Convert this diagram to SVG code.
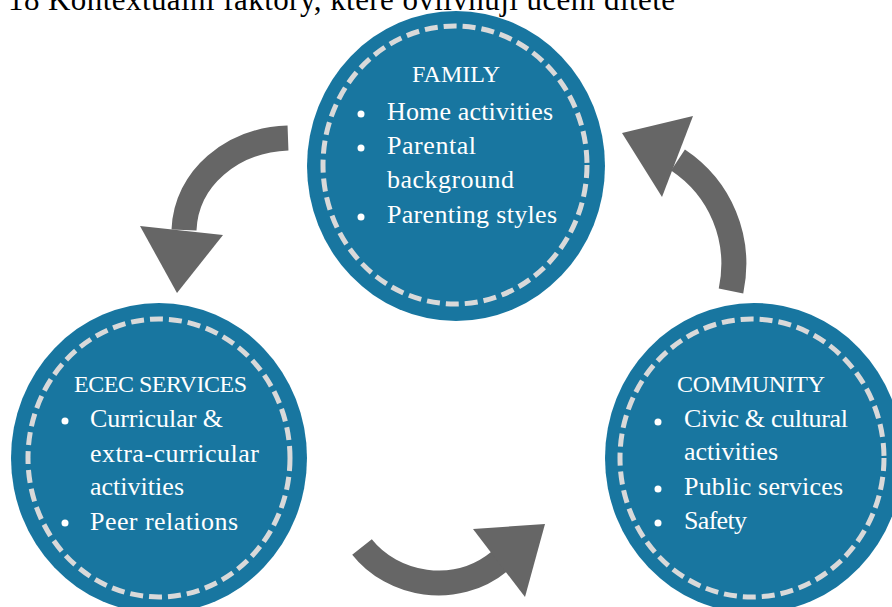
<svg xmlns="http://www.w3.org/2000/svg" width="892" height="607" viewBox="0 0 892 607">
<defs>
<style>
.disc{fill:#1876a0}
.ring{fill:none;stroke:#d9d9d9;stroke-width:5;stroke-dasharray:13 6}
.hd{font-family:"Liberation Serif","Times New Roman",serif;font-size:24px;fill:#ffffff}
.it{font-family:"Liberation Serif","Times New Roman",serif;font-size:26px;fill:#ffffff}
.bul{fill:#ffffff}
.shaft{fill:none;stroke:#666666;stroke-width:25;stroke-linecap:butt}
.head{fill:#666666}
.cap{font-family:"Liberation Serif","Times New Roman",serif;font-size:31px;fill:#000000}
</style>
</defs>
<rect width="892" height="607" fill="#ffffff"/>
<text class="cap" x="8" y="10" textLength="667">18 Kontextuální faktory, které ovlivňují učení dítěte</text>

<g id="connectors">
<path class="shaft" d="M 288 138 C 232 140 186 178 184 230"/>
<polygon class="head" points="140,226 223,235 177,293"/>
<path class="shaft" d="M 731 291 C 742 238 720 188 678 160"/>
<polygon class="head" points="622,133 693,116 662,197"/>
<path class="shaft" d="M 362 547 C 392 585 455 598 500 561"/>
<polygon class="head" points="473,529 545,524 525,597"/>
</g>

<g id="family">
<ellipse class="disc" cx="456" cy="166" rx="149" ry="155"/>
<ellipse class="ring" cx="455" cy="165" rx="132" ry="139"/>
<text class="hd" x="412" y="82" textLength="88">FAMILY</text>
<circle class="bul" cx="361" cy="114" r="3.5"/>
<circle class="bul" cx="361" cy="148" r="3.5"/>
<circle class="bul" cx="361" cy="217" r="3.5"/>
<text class="it" x="387" y="120" textLength="166">Home activities</text>
<text class="it" x="387" y="154" textLength="89">Parental</text>
<text class="it" x="387" y="188" textLength="127">background</text>
<text class="it" x="387" y="223" textLength="170">Parenting styles</text>
</g>

<g id="ecec">
<ellipse class="disc" cx="159" cy="458" rx="148" ry="155"/>
<ellipse class="ring" cx="159" cy="458" rx="131" ry="139"/>
<text class="hd" x="74" y="392" textLength="173">ECEC SERVICES</text>
<circle class="bul" cx="65" cy="421" r="3.5"/>
<circle class="bul" cx="65" cy="523" r="3.5"/>
<text class="it" x="90" y="427" textLength="133">Curricular &amp;</text>
<text class="it" x="90" y="462" textLength="169">extra-curricular</text>
<text class="it" x="90" y="495" textLength="94">activities</text>
<text class="it" x="90" y="530" textLength="148">Peer relations</text>
</g>

<g id="community">
<ellipse class="disc" cx="754" cy="458" rx="149" ry="155"/>
<ellipse class="ring" cx="752" cy="458" rx="132" ry="139"/>
<text class="hd" x="677" y="392" textLength="148">COMMUNITY</text>
<circle class="bul" cx="658" cy="422" r="3.5"/>
<circle class="bul" cx="658" cy="489" r="3.5"/>
<circle class="bul" cx="658" cy="523" r="3.5"/>
<text class="it" x="684" y="427" textLength="164">Civic &amp; cultural</text>
<text class="it" x="684" y="460" textLength="94">activities</text>
<text class="it" x="684" y="495" textLength="159">Public services</text>
<text class="it" x="684" y="529" textLength="63">Safety</text>
</g>
</svg>
